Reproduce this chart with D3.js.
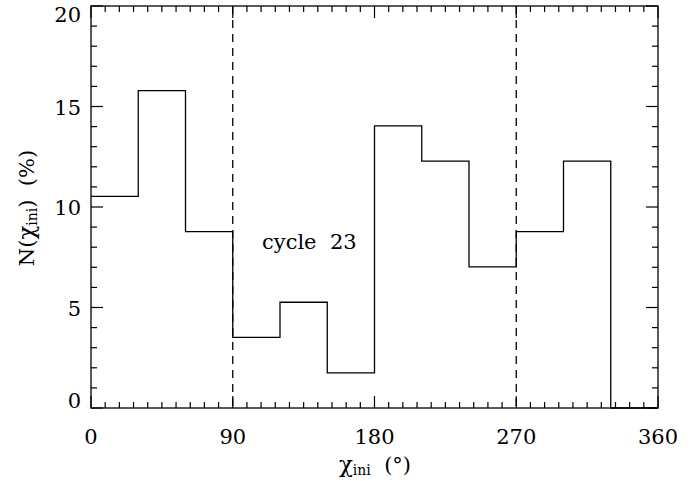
<!DOCTYPE html>
<html>
<head>
<meta charset="utf-8">
<script src="https://cdn.jsdelivr.net/npm/d3@7"></script>
<style>
body{margin:0;background:#fff}
</style>
</head>
<body>
<svg width="699" height="481"></svg>
<script>
// bin edges (deg) and percentages, 12 bins of 30 deg
const binStart = [0,30,60,90,120,150,180,210,240,270,300,330];
const binWidth = 30;
const percent = [10.53,15.79,8.77,3.51,5.26,1.75,14.04,12.28,7.02,8.77,12.28,0];
const xTicks = [0,90,180,270,360];
const yTicks = [0,5,10,15,20];
const dashAt = [90,270];

const m = {left:91, right:658, top:6, bottom:408};
const x = d3.scaleLinear().domain([0,360]).range([m.left,m.right]);
const y = d3.scaleLinear().domain([0,20]).range([m.bottom,m.top]);

const svg = d3.select('svg')
  .attr('font-family','DejaVu Serif, serif');

// step histogram
let pts = [];
binStart.forEach((s,i)=>{
  pts.push([x(s), y(percent[i])]);
  pts.push([x(s+binWidth), y(percent[i])]);
});
svg.append('path')
  .attr('d', d3.line()(pts))
  .attr('fill','none').attr('stroke','#000').attr('stroke-width',1.3);

// dashed separators
svg.selectAll('.sep').data(dashAt).enter().append('line')
  .attr('x1',d=>x(d)).attr('x2',d=>x(d))
  .attr('y1',m.top).attr('y2',m.bottom)
  .attr('stroke','#000').attr('stroke-width',1.3).attr('stroke-dasharray','8,6');

// frame
svg.append('rect').attr('x',m.left).attr('y',m.top)
  .attr('width',m.right-m.left).attr('height',m.bottom-m.top)
  .attr('fill','none').attr('stroke','#000').attr('stroke-width',1.3);

// ticks
const g = svg.append('g').attr('stroke','#000').attr('stroke-width',1.2);
d3.range(0,361,9).forEach(v=>{
  const major = v%90===0, len = major?12:6;
  g.append('line').attr('x1',x(v)).attr('x2',x(v)).attr('y1',m.bottom).attr('y2',m.bottom-len);
  g.append('line').attr('x1',x(v)).attr('x2',x(v)).attr('y1',m.top).attr('y2',m.top+len);
});
d3.range(0,21,1).forEach(v=>{
  const major = v%5===0, len = major?12:6;
  g.append('line').attr('y1',y(v)).attr('y2',y(v)).attr('x1',m.left).attr('x2',m.left+len);
  g.append('line').attr('y1',y(v)).attr('y2',y(v)).attr('x1',m.right).attr('x2',m.right-len);
});

// tick labels
svg.selectAll('.xl').data(xTicks).enter().append('text')
  .attr('x',d=>x(d)).attr('y',m.bottom+36)
  .attr('text-anchor','middle').attr('font-size',21).text(d=>d);
svg.selectAll('.yl').data(yTicks).enter().append('text')
  .attr('x',m.left-10)
  .attr('y',d=>d===0 ? y(d) : d===20 ? y(d)+16 : y(d)+8)
  .attr('text-anchor','end').attr('font-size',21).text(d=>d);

// axis titles
const xt = svg.append('text').attr('x',375).attr('y',472).attr('text-anchor','middle').attr('font-size',21);
xt.append('tspan').attr('font-size',23).text('χ');
xt.append('tspan').attr('font-size',14).attr('dy',3).text('ini');
xt.append('tspan').attr('dy',-3).text('\u00a0\u00a0(°)');

const yt = svg.append('text').attr('transform','translate(34,208) rotate(-90)')
  .attr('text-anchor','middle').attr('font-size',21);
yt.append('tspan').text('N(');
yt.append('tspan').attr('font-size',23).text('χ');
yt.append('tspan').attr('font-size',14).attr('dy',3).text('ini');
yt.append('tspan').attr('dy',-3).text(')\u00a0\u00a0(%)');

svg.append('text').attr('x',262).attr('y',249).attr('font-size',21).text('cycle\u00a0\u00a023');
</script>
</body>
</html>
